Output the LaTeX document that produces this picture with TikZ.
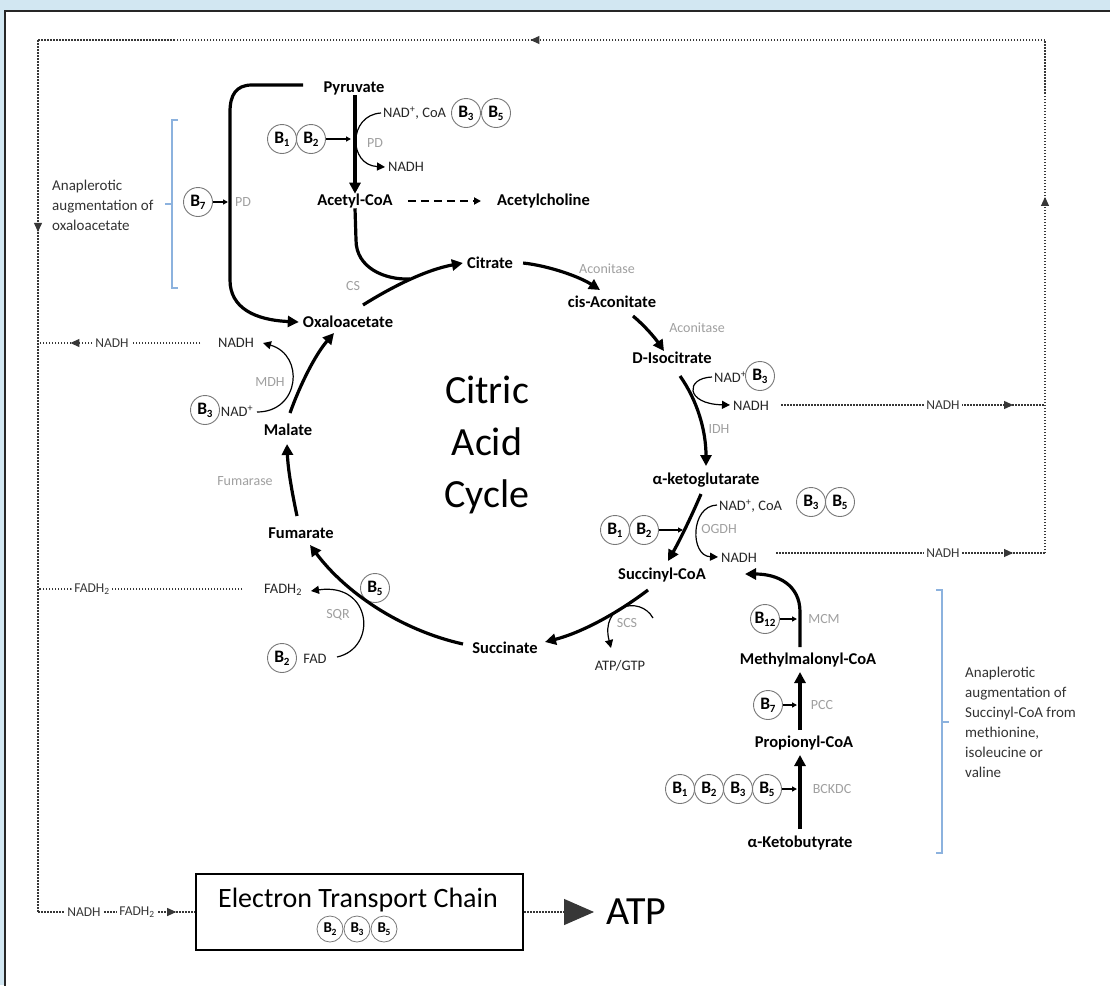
\documentclass[tikz,border=0pt]{standalone}
\usepackage{fontspec}
\setmainfont{Carlito}
\usetikzlibrary{arrows.meta,decorations.markings}
\definecolor{bgblue}{RGB}{210,231,242}
\definecolor{glab}{RGB}{160,160,160}
\definecolor{brk}{RGB}{140,178,222}
\definecolor{dotc}{RGB}{55,55,55}
\definecolor{ring}{RGB}{120,120,120}
\newcommand\vb[1]{B\kern-0.3pt\raisebox{-2.8pt}{\fontsize{11}{11}\selectfont\bfseries #1}}
\newcommand\vbs[1]{B\kern-0.3pt\raisebox{-2.4pt}{\fontsize{9.5}{9.5}\selectfont\bfseries #1}}
\tikzset{
  met/.style={font=\fontsize{16.5}{18}\selectfont\bfseries, inner sep=0pt},
  lab/.style={font=\fontsize{14.5}{16}\selectfont, inner sep=0pt, text=black!85},
  enz/.style={font=\fontsize{14}{15}\selectfont, text=glab, inner sep=0pt},
  mainarr/.style={line width=3.2pt, -{Triangle[length=11pt,width=11pt]}},
  mainline/.style={line width=3.2pt},
  sidearr/.style={line width=1.2pt, -{Triangle[length=8pt,width=8pt]}},
  smallarr/.style={line width=1.4pt, -{Triangle[length=5pt,width=5pt]}},
  vit/.style={circle, draw=ring, line width=0.9pt, minimum size=29pt, inner sep=0pt, font=\fontsize{17.5}{17.5}\selectfont\bfseries},
  vits/.style={circle, draw=ring, line width=0.8pt, minimum size=26pt, inner sep=0pt, font=\fontsize{15}{15}\selectfont\bfseries},
  dots/.style={draw=dotc, line width=1.1pt, dash pattern=on 1.5pt off 1.5pt},
  midarrow/.style={postaction={decorate}, decoration={markings, mark=at position #1 with {\arrow{Triangle[length=9pt,width=8pt]}}}},
  dlab/.style={font=\fontsize{13.5}{15}\selectfont, fill=white, inner sep=2pt, text=dotc},
  brace/.style={draw=brk, line width=1.2pt},
  note/.style={font=\fontsize{15}{20}\selectfont, align=left, text=black!80, inner sep=0pt},
}
\begin{document}
\begin{tikzpicture}[x=1pt,y=-1pt]
\useasboundingbox (0,0) rectangle (1110,985);
\fill[bgblue] (0,0) rectangle (1110,985);
\fill[white] (5,11) rectangle (1115,990);
\draw[line width=2.5pt, black!85] (5,995) -- (5,11) -- (1115,11);

% metabolites
\node[met] (pyr) at (354,88) {Pyruvate};
\node[met] (acoa) at (355,201) {Acetyl-CoA};
\node[met, anchor=west] (ach) at (497,201) {Acetylcholine};
\node[met] (cit) at (490,263) {Citrate};
\node[met] (cis) at (612,302) {cis-Aconitate};
\node[met] (iso) at (672,358) {D-Isocitrate};
\node[met] (akg) at (706,480) {α-ketoglutarate};
\node[met] (scoa) at (662,575) {Succinyl-CoA};
\node[met] (succ) at (505,648) {Succinate};
\node[met] (fum) at (301,533) {Fumarate};
\node[met] (mal) at (288,430) {Malate};
\node[met] (oaa) at (348,322) {Oxaloacetate};
\node[met] (mmc) at (808,660) {Methylmalonyl-CoA};
\node[met] (pcoa) at (804,743) {Propionyl-CoA};
\node[met] (akb) at (800,843) {α-Ketobutyrate};

% enzymes
\node[enz] (pd1) at (375,143) {PD};
\node[enz] (pd2) at (243,202) {PD};
\node[enz] (cs) at (353,286) {CS};
\node[enz] (acn1) at (607,269) {Aconitase};
\node[enz] (acn2) at (697,328) {Aconitase};
\node[enz] (idh) at (719,429) {IDH};
\node[enz] (ogdh) at (719,529) {OGDH};
\node[enz] (scs) at (627,623) {SCS};
\node[enz] (sqr) at (338,615) {SQR};
\node[enz] (fumase) at (245,481) {Fumarase};
\node[enz] (mdh) at (270,382) {MDH};
\node[enz] (mcm) at (824,619) {MCM};
\node[enz] (pcc) at (822,705) {PCC};
\node[enz] (bckdc) at (832,789) {BCKDC};

% cofactors and vitamins
\node[lab, anchor=west] (pdin) at (383,113) {NAD\textsuperscript{+}, CoA};
\node[lab, anchor=west] (pdout) at (388,167) {NADH};
\node[vit] (pb3) at (466,113) {\vb{3}};
\node[vit] (pb5) at (496,113) {\vb{5}};
\node[vit] (pb1) at (282,139) {\vb{1}};
\node[vit] (pb2) at (311,139) {\vb{2}};
\node[vit] (b7a) at (198,202) {\vb{7}};

\node[lab, anchor=west] (idhin) at (714,377) {NAD\textsuperscript{+}};
\node[vit] (ib3) at (760,376) {\vb{3}};
\node[lab, anchor=west] (idhout) at (733,406) {NADH};

\node[lab, anchor=west] (ogin) at (719,506) {NAD\textsuperscript{+}, CoA};
\node[vit] (ob3) at (811,502) {\vb{3}};
\node[vit] (ob5) at (840,502) {\vb{5}};
\node[vit] (ob1) at (615,530) {\vb{1}};
\node[vit] (ob2) at (644,530) {\vb{2}};
\node[lab, anchor=west] (ogout) at (721,558) {NADH};

\node[lab] (mdhout) at (236,343) {NADH};
\node[vit] (mb3) at (205,410) {\vb{3}};
\node[lab] (mdhin) at (237,411) {NAD\textsuperscript{+}};

\node[lab] (sqrout) at (283,590) {FADH\textsubscript{2}};
\node[vit] (sb5) at (375,588) {\vb{5}};
\node[vit] (sb2) at (282,658) {\vb{2}};
\node[lab] (sqrin) at (315,659) {FAD};
\node[lab] (atpgtp) at (620,666) {ATP/GTP};

\node[vit] (m12) at (765,619) {\vb{12}};
\node[vit] (m7) at (768,705) {\vb{7}};
\node[vit] (k1) at (680,789) {\vb{1}};
\node[vit] (k2) at (709,789) {\vb{2}};
\node[vit] (k3) at (738,789) {\vb{3}};
\node[vit] (k5) at (767,789) {\vb{5}};

\node[font=\fontsize{40}{52}\selectfont, align=center] (cac) at (487,445) {Citric\\Acid\\Cycle};

% pyruvate branches
\draw[mainarr] ([xshift=1pt]pyr.south) -- (acoa.north);
\draw[mainarr] (303,85) -- (252,85) .. controls (236,85) and (230,95) .. (230,112) -- (230,280) .. controls (230,308) and (255,320) .. ([xshift=-4pt]oaa.west);
\draw[sidearr] (381,113) .. controls (348,115) and (348,165) .. (385,167);
\draw[smallarr] (pb2.east) -- (351,139);
\draw[smallarr] (b7a.east) -- (228,202);
\draw[line width=1.8pt, dash pattern=on 8pt off 5pt, -{Triangle[length=7pt,width=7pt]}] ([xshift=15pt]acoa.east) -- ([xshift=-16pt]ach.west);

% cycle
\coordinate (j1) at (410,279);
\draw[mainline] (acoa.south) -- (356,240) .. controls (356,268) and (385,280) .. (j1);
\draw[mainarr] (363,305) .. controls (390,288) and (425,270) .. ([xshift=-4pt]cit.west);
\draw[mainarr] ([xshift=10pt]cit.east) .. controls (550,266) and (580,277) .. (600,290);
\draw[mainarr] (633,316) .. controls (645,326) and (655,338) .. (664,351);
\draw[mainarr] (680,376) .. controls (697,400) and (706,430) .. (706,466);
\draw[mainarr] (701,494) .. controls (692,515) and (680,540) .. (668,561);
\draw[mainarr] (648,590) .. controls (615,615) and (580,633) .. (545,642);
\draw[mainarr] (463,644) .. controls (400,630) and (345,592) .. (310,545);
\draw[mainarr] (297,516) .. controls (292,492) and (288,470) .. (287,444);
\draw[mainarr] (290,413) .. controls (300,385) and (315,355) .. (334,333);

% side reactions
\draw[sidearr] (712,377) .. controls (685,378) and (685,404) .. (730,405);
\draw[sidearr] (717,505) .. controls (690,506) and (690,556) .. (718,557);
\draw[smallarr] (ob2.east) -- (683,530);
\draw[sidearr] (653,618) .. controls (640,595) and (600,605) .. (611,648);
\draw[sidearr] (337,657) .. controls (378,648) and (372,582) .. (311,591);
\draw[sidearr] (257,412) .. controls (300,412) and (305,355) .. (263,343);

% anaplerotic succinyl-CoA
\draw[mainarr] (800,647) -- (800,612) .. controls (800,585) and (778,574) .. (745,574);
\draw[mainarr] (800,730) -- (800,672);
\draw[mainarr] (800,829) -- (800,755);
\draw[smallarr] (m12.east) -- (797,619);
\draw[smallarr] (m7.east) -- (797,705);
\draw[smallarr] (k5.east) -- (797,789);

% brackets and notes
\draw[brace] (178,120) -- (172,120) -- (172,288) -- (178,288);
\draw[brace] (172,204) -- (165,204);
\node[note, anchor=west] (n1) at (52,205) {Anaplerotic\\augmentation of\\oxaloacetate};
\draw[brace] (936,590) -- (942,590) -- (942,853) -- (936,853);
\draw[brace] (942,722) -- (949,722);
\node[note, anchor=west] (n2) at (965,722) {Anaplerotic\\augmentation of\\Succinyl-CoA from\\methionine,\\isoleucine or\\valine};

% ETC
\node[draw, line width=2pt, minimum width=327pt, minimum height=76pt] (etc) at (359.5,912) {};
\node[font=\fontsize{28}{30}\selectfont] (etct) at (358,900) {Electron Transport Chain};
\node[vits] (e2) at (330,929) {\vbs{2}};
\node[vits] (e3) at (357,929) {\vbs{3}};
\node[vits] (e5) at (384,929) {\vbs{5}};
\node[font=\fontsize{40}{40}\selectfont, anchor=west, inner sep=0pt] (atp) at (606,912) {ATP};
\draw[dots, -{Triangle[length=30pt,width=26pt]}] (etc.east) -- ([xshift=-12pt]atp.west);

% dotted electron carrier routes
\coordinate (TL) at (38,40);
\coordinate (TR) at (1045,40);
\coordinate (BL) at (38,912);
\coordinate (R1) at (1045,405);
\coordinate (R2) at (1045,553);
\coordinate (I1) at (781,405);
\coordinate (O1) at (776,553);
\coordinate (M1) at (200,343);
\coordinate (M0) at (38,343);
\coordinate (F1) at (242,589);
\coordinate (F0) at (38,589);
\draw[dots, midarrow=0.511] (TR) -- (TL);
\draw[dots, midarrow=0.22] (TL) -- (BL);
\draw[dots, midarrow=0.694] (R2) -- (TR);
\draw[dots, midarrow=0.88] (BL) -- (etc.west);
\draw[dots, midarrow=0.879] (I1) -- (R1);
\draw[dots, midarrow=0.881] (O1) -- (R2);
\draw[dots, midarrow=0.80] (M1) -- (M0);
\draw[dots, midarrow=0.84] (F1) -- (F0);
\node[dlab] (l1) at (943,405) {NADH};
\node[dlab] (l2) at (943,553) {NADH};
\node[dlab] (l3) at (112,343) {NADH};
\node[dlab] (l4) at (92,589) {FADH\textsubscript{2}};
\node[dlab] (l5) at (84,912) {NADH};
\node[dlab] (l6) at (137,912) {FADH\textsubscript{2}};
\end{tikzpicture}
\end{document}
